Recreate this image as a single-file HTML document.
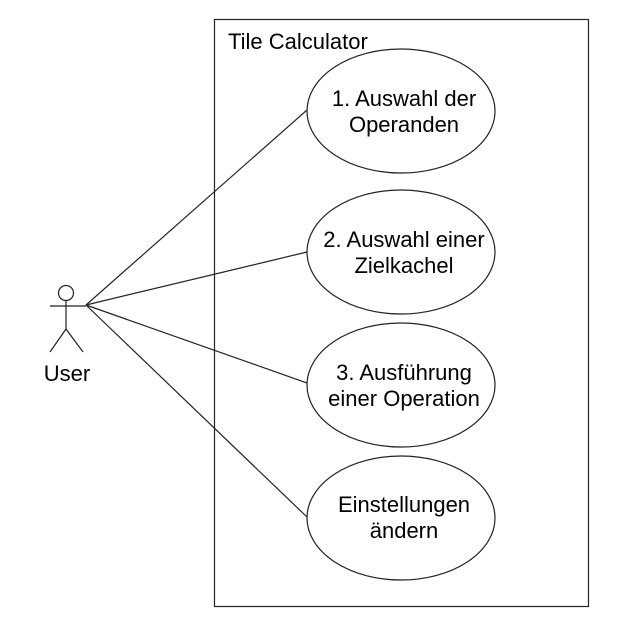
<!DOCTYPE html>
<html><head><style>html,body{margin:0;padding:0;background:#fff;}</style></head>
<body>
<svg width="622" height="644" xmlns="http://www.w3.org/2000/svg" style="display:block">
<g fill="none" stroke="#222" stroke-width="1.2">
<rect x="214.5" y="19.5" width="374" height="587"/>
<line x1="86" y1="305" x2="307" y2="110"/>
<line x1="86" y1="305" x2="307" y2="252"/>
<line x1="86" y1="305" x2="307" y2="383"/>
<line x1="86" y1="305" x2="307" y2="517"/>
<circle cx="66" cy="293" r="7.5"/>
<line x1="66" y1="300.5" x2="66" y2="329"/>
<line x1="50" y1="306" x2="86" y2="306"/>
<line x1="66" y1="329" x2="50" y2="352"/>
<line x1="66" y1="329" x2="83" y2="352"/>
</g>
<g fill="#fff" stroke="#222" stroke-width="1.2">
<ellipse cx="401" cy="111" rx="94" ry="62"/>
<ellipse cx="401" cy="252" rx="94" ry="62"/>
<ellipse cx="401" cy="385" rx="94" ry="62"/>
<ellipse cx="401" cy="518" rx="94" ry="62"/>
</g>
<g font-family="Liberation Sans, Arial, sans-serif" font-size="22" fill="#000" text-anchor="middle">
<text x="228" y="49" text-anchor="start">Tile Calculator</text>
<text x="404" y="106">1. Auswahl der</text>
<text x="404" y="132">Operanden</text>
<text x="404" y="247">2. Auswahl einer</text>
<text x="404" y="273">Zielkachel</text>
<text x="404" y="380">3. Ausführung</text>
<text x="404" y="406">einer Operation</text>
<text x="404" y="512">Einstellungen</text>
<text x="404" y="538">ändern</text>
<text x="67" y="381">User</text>
</g>
</svg>
</body></html>
